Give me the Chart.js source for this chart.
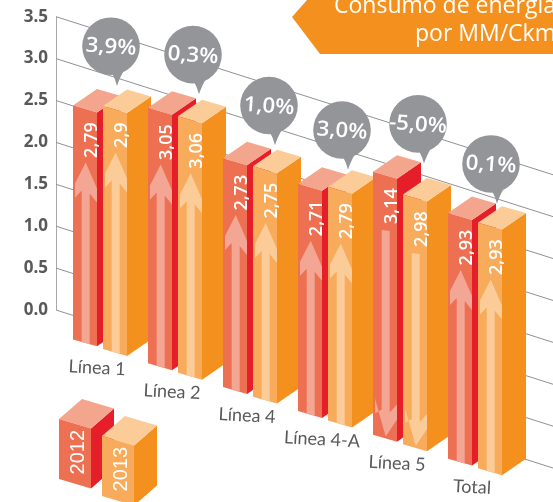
<!DOCTYPE html>
<html><head><meta charset="utf-8">
<style>html,body{margin:0;padding:0;background:#fff}canvas{display:block}</style>
<script src="https://cdn.jsdelivr.net/npm/chart.js@4"></script></head>
<body><canvas id="c" width="553" height="502"></canvas>
<script>
const categories = ['Línea 1','Línea 2','Línea 4','Línea 4-A','Línea 5','Total'];
const values2012 = [2.79,3.05,2.73,2.71,3.14,2.93];
const values2013 = [2.9,3.06,2.75,2.79,2.98,2.93];
const changes = ['3,9%','0,3%','1,0%','3,0%','-5,0%','0,1%'];
const yTicks = [0,0.5,1,1.5,2,2.5,3,3.5];
const titleLines = ['Consumo de energía','por MM/Ckm'];
const bubbleLift = [20,22,21,17,31,19];
const bubbleShift = [17,24,25,23,24,22];

const SLOPE=0.318, FACE=0.29, DROP=24, AX=56, DX=24, DY=-16.5;
const skin=[
 {front:'#ee7052',top:'#f4a58d',side:'#e61e2a',arrow:'#f4a695'},
 {front:'#f7ab5b',top:'#fbcc98',side:'#f4911e',arrow:'#fbcc98'}];
const poly=(c,p,f)=>{c.beginPath();p.forEach((q,i)=>i?c.lineTo(q[0],q[1]):c.moveTo(q[0],q[1]));c.closePath();c.fillStyle=f;c.fill();};

function block(c,x,top,bot,w,s,dx,dy,slope){
  const t=slope*w;
  poly(c,[[x+w,top+t],[x+w+dx,top+t+dy],[x+w+dx,bot+t+dy],[x+w,bot+t]],s.side);
  poly(c,[[x,top],[x+w,top+t],[x+w+dx,top+t+dy],[x+dx,top+dy]],s.top);
  poly(c,[[x,top],[x+w,top+t],[x+w,bot+t],[x,bot]],s.front);
}
function drawBar(c,el,s,value,down){
  const w=el.width,x=el.x-w/2,off=SLOPE*(x-AX)+DROP,top=el.y+off,bot=el.base+off;
  block(c,x,top,bot,w,s,DX,DY,FACE);
  const label=String(value).replace('.',',');
  c.font='600 18px "Open Sans"';
  const tl=c.measureText(label).width,tTop=top+16.5,cx=x+12.7,hw=4;
  const by=q=>bot+FACE*(q-x);
  if(!down){
    const tip=tTop+tl+4.5;
    poly(c,[[cx,tip],[cx+11.3,tip+26],[cx+11.3,tip+40],[cx+hw,tip+31],[cx+hw,by(cx+hw)],[cx-hw,by(cx-hw)],[cx-hw,tip+28],[cx-10.7,tip+35],[cx-10.7,tip+21]],s.arrow);
  }else{
    const tip=by(cx)-2,st=tTop+tl+6;
    poly(c,[[cx,tip],[cx+11.3,tip-17],[cx+11.3,tip-32],[cx+hw,tip-24],[cx+hw,st+1],[cx-hw,st],[cx-hw,tip-27],[cx-10.7,tip-23],[cx-10.7,tip-38]],s.arrow);
  }
  c.save();c.translate(x+23.5,tTop);c.rotate(-Math.PI/2);
  c.fillStyle='#fff';c.textAlign='right';c.textBaseline='alphabetic';c.fillText(label,0,0);c.restore();
}
function bubble(c,tx,ty,text){
  const x=tx-6,y=ty-39.7,r=28.8;
  c.fillStyle='#939598';
  c.beginPath();c.arc(x,y,r,0,Math.PI*2);c.fill();
  c.beginPath();c.moveTo(x+1,y+27);c.quadraticCurveTo(x+4,y+32,tx,ty);c.quadraticCurveTo(x+8,y+33,x+13,y+24);c.closePath();c.fill();
  c.save();c.translate(x,y);c.rotate(4*Math.PI/180);c.scale(1.06,1);
  c.fillStyle='#fff';c.font='600 21px "Open Sans"';c.textAlign='center';c.textBaseline='middle';c.fillText(text,0,1);c.restore();
}
const scene={id:'scene',
 beforeDatasetsDraw(ch){
  const c=ch.ctx,y=ch.scales.y;
  c.save();
  c.strokeStyle='#a7a9ac';c.lineWidth=1;
  c.beginPath();c.moveTo(AX+.5,y.getPixelForValue(3.5));c.lineTo(AX+.5,y.getPixelForValue(0));c.stroke();
  c.strokeStyle='#8f9194';
  yTicks.forEach(v=>{const p=y.getPixelForValue(v);c.beginPath();c.moveTo(AX,p);c.lineTo(553,p+SLOPE*(553-AX));c.stroke();});
  poly(c,[[307,0],[553,0],[553,54],[320,54],[292,17]],'#f4911e');
  c.fillStyle='#fff';c.font='400 23px "Open Sans"';c.textAlign='left';c.textBaseline='alphabetic';
  c.fillText(titleLines[0],334,13);c.fillText(titleLines[1],415,41);
  c.restore();
 },
 afterDatasetsDraw(ch){
  const c=ch.ctx,x=ch.scales.x,m0=ch.getDatasetMeta(0).data,m1=ch.getDatasetMeta(1).data;
  c.save();
  categories.forEach((_,i)=>{
    const down=values2013[i]<values2012[i];
    drawBar(c,m0[i],skin[0],values2012[i],down);
    drawBar(c,m1[i],skin[1],values2013[i],down);
  });
  categories.forEach((name,i)=>{
    const gx=x.getPixelForTick(i);
    const off=SLOPE*(gx-AX);
    c.save();c.translate(gx-3,ch.scales.y.getPixelForValue(0)+off+44);c.rotate(3*Math.PI/180);
    c.fillStyle='#58595b';c.font='400 18px Lato';c.textAlign='center';c.textBaseline='middle';c.fillText(name,0,0);c.restore();
  });
  categories.forEach((_,i)=>{
    const gx=x.getPixelForTick(i);
    const e=m1[i],off=SLOPE*(e.x-e.width/2-AX)+DROP;
    bubble(c,gx+bubbleShift[i],e.y+off-bubbleLift[i],changes[i]);
  });
  [[59,419,ch.data.datasets[0].label,0],[102,436,ch.data.datasets[1].label,1]].forEach(([lx,ly,t,k])=>{
    block(c,lx,ly,ly+60,32,skin[k],23,-20,0.3);
    c.save();c.translate(lx+24.5,ly+11);c.rotate(-Math.PI/2);c.fillStyle='#fff';
    c.font='400 20px "Liberation Sans"';c.textAlign='right';c.textBaseline='alphabetic';c.fillText(t,0,0);c.restore();
  });
  c.restore();
 }};
new Chart(document.getElementById('c'),{
 type:'bar',
 data:{labels:categories,datasets:[
  {label:'2012',data:values2012,backgroundColor:'transparent',categoryPercentage:0.8,barPercentage:0.8},
  {label:'2013',data:values2013,backgroundColor:'transparent',categoryPercentage:0.8,barPercentage:0.8}]},
 options:{responsive:false,animation:false,
  layout:{padding:{top:16.7,bottom:192,right:40.5,left:0}},
  plugins:{legend:{display:false},title:{display:false},tooltip:{enabled:false}},
  scales:{
   x:{display:false},
   y:{min:0,max:3.5,afterFit(s){s.width=62.5;s.paddingTop=0;s.paddingBottom=0;},afterBuildTicks(s){s.ticks=yTicks.map(v=>({value:v}));},
      grid:{display:false,drawTicks:false},border:{display:false},
      ticks:{padding:14.5,color:'#58595b',font:{family:'"Open Sans"',size:17,weight:'700'},callback:v=>v.toFixed(1)}}
  }},
 plugins:[scene]});
</script></body></html>
